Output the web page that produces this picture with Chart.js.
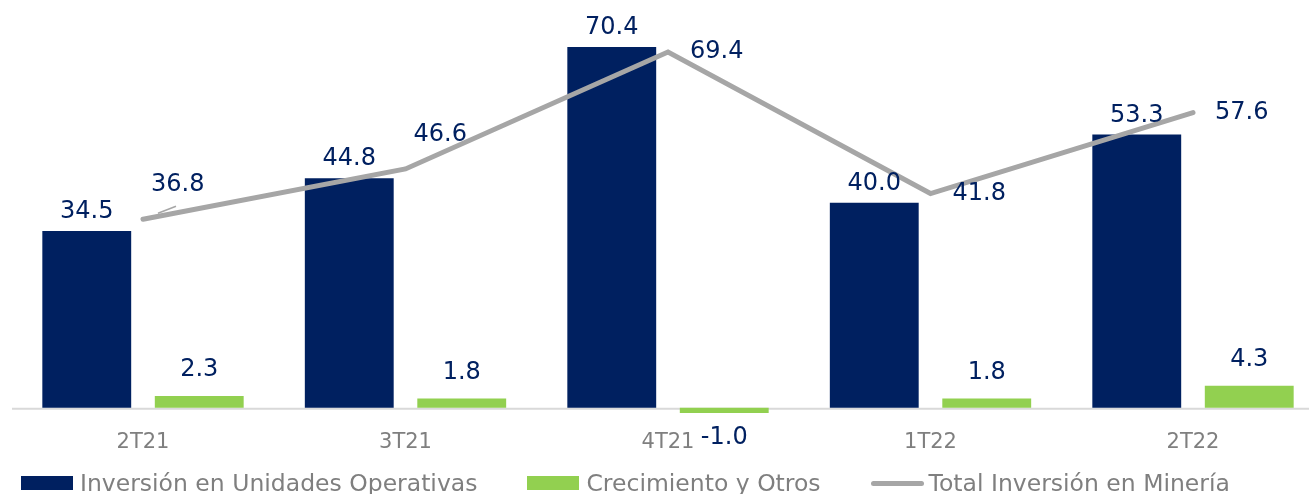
<!DOCTYPE html>
<html>
<head>
<meta charset="utf-8">
<script src="https://cdn.jsdelivr.net/npm/chart.js@4"></script>
<style>
  html, body { margin: 0; padding: 0; background: #fff; overflow: hidden; width: 1309px; height: 494px; }
  #wrap { position: absolute; left: 0; top: 0; width: 1330px; height: 494px; }
  #legend { position: absolute; left: 21px; top: 470px; height: 26px; display: flex; align-items: center; font-family: "DejaVu Sans", sans-serif; font-size: 23.5px; color: #7F7F7F; white-space: nowrap; }
  .item { display: flex; align-items: center; margin-right: 50px; }
  .box { width: 52px; height: 14px; margin-right: 7px; }
  .ln { width: 53px; height: 5px; border-radius: 3px; margin-right: 5px; }
</style>
</head>
<body>
<div id="wrap"><canvas id="c" width="1330" height="494"></canvas></div>
<div id="legend"></div>
<script>
const categories = ["2T21", "3T21", "4T21", "1T22", "2T22"];
const seriesNames = ["Inversión en Unidades Operativas", "Crecimiento y Otros", "Total Inversión en Minería"];
const operativas = [34.5, 44.8, 70.4, 40.0, 53.3];
const crecimiento = [2.3, 1.8, -1.0, 1.8, 4.3];
const total = [36.8, 46.6, 69.4, 41.8, 57.6];

const NAVY = "#002060", GREEN = "#92D050", GREY = "#A6A6A6", TXT = "#7F7F7F";
const FONT = '"DejaVu Sans", sans-serif';

const labelsPlugin = {
  id: "labels",
  beforeDatasetsDraw(chart) {
    const { ctx, scales } = chart;
    const y0 = scales.y.getPixelForValue(0);
    ctx.save();
    ctx.strokeStyle = "#D9D9D9";
    ctx.lineWidth = 2;
    ctx.beginPath();
    ctx.moveTo(12, y0 + 1);
    ctx.lineTo(1330, y0 + 1);
    ctx.stroke();
    ctx.restore();
  },
  afterDatasetsDraw(chart) {
    const { ctx } = chart;
    ctx.save();
    ctx.fillStyle = NAVY;
    ctx.font = "24px " + FONT;
    ctx.textBaseline = "middle";
    ctx.textAlign = "center";
    const m0 = chart.getDatasetMeta(0);
    m0.data.forEach((b, i) => {
      ctx.fillText(operativas[i].toFixed(1), b.x, b.y - 19);
    });
    const m1 = chart.getDatasetMeta(1);
    m1.data.forEach((b, i) => {
      const v = crecimiento[i];
      if (v >= 0) ctx.fillText(v.toFixed(1), b.x, b.y - 26);
      else ctx.fillText(v.toFixed(1), b.x, b.y + 25);
    });
    const m2 = chart.getDatasetMeta(2);
    m2.data.forEach((p, i) => {
      const rising = i < total.length - 1 && total[i + 1] > total[i];
      const valley = i > 0 && total[i - 1] > total[i];
      const lift = rising && !valley;
      const tx = p.x + (lift ? 8 : 22);
      const ty = p.y - (lift ? 34 : 0);
      if (i === 0) {
        ctx.save();
        ctx.strokeStyle = GREY;
        ctx.lineWidth = 1.5;
        ctx.beginPath();
        ctx.moveTo(p.x + 15, p.y - 6);
        ctx.lineTo(p.x + 33, p.y - 13);
        ctx.stroke();
        ctx.restore();
      }
      ctx.textAlign = "left";
      ctx.fillText(total[i].toFixed(1), tx, ty);
    });
    ctx.restore();
  }
};

new Chart(document.getElementById("c"), {
  type: "bar",
  data: {
    labels: categories,
    datasets: [
      { label: seriesNames[0], data: operativas, backgroundColor: NAVY, order: 1, categoryPercentage: 0.857, barPercentage: 0.79 },
      { label: seriesNames[1], data: crecimiento, backgroundColor: GREEN, order: 1, categoryPercentage: 0.857, barPercentage: 0.79 },
      { label: seriesNames[2], data: total, type: "line", borderColor: GREY, borderWidth: 5, pointRadius: 0, borderCapStyle: "round", borderJoinStyle: "miter", order: 0, fill: false, tension: 0 }
    ]
  },
  options: {
    responsive: false,
    animation: false,
    devicePixelRatio: 1,
    layout: { padding: { left: 11.75, right: 5.75, top: 8, bottom: 35 } },
    plugins: { legend: { display: false }, tooltip: { enabled: false } },
    scales: {
      x: {
        grid: { display: false },
        border: { display: false },
        ticks: { color: TXT, font: { family: FONT, size: 21 }, padding: 4 }
      },
      y: { display: false, min: -1.95, max: 78 }
    }
  },
  plugins: [labelsPlugin]
});

const colors = [NAVY, GREEN, GREY];
const lg = document.getElementById("legend");
seriesNames.forEach((n, i) => {
  const it = document.createElement("div");
  it.className = "item";
  const sw = document.createElement("div");
  sw.className = i === 2 ? "ln" : "box";
  sw.style.background = colors[i];
  const t = document.createElement("span");
  t.textContent = n;
  it.appendChild(sw); it.appendChild(t);
  lg.appendChild(it);
});
</script>
</body>
</html>
